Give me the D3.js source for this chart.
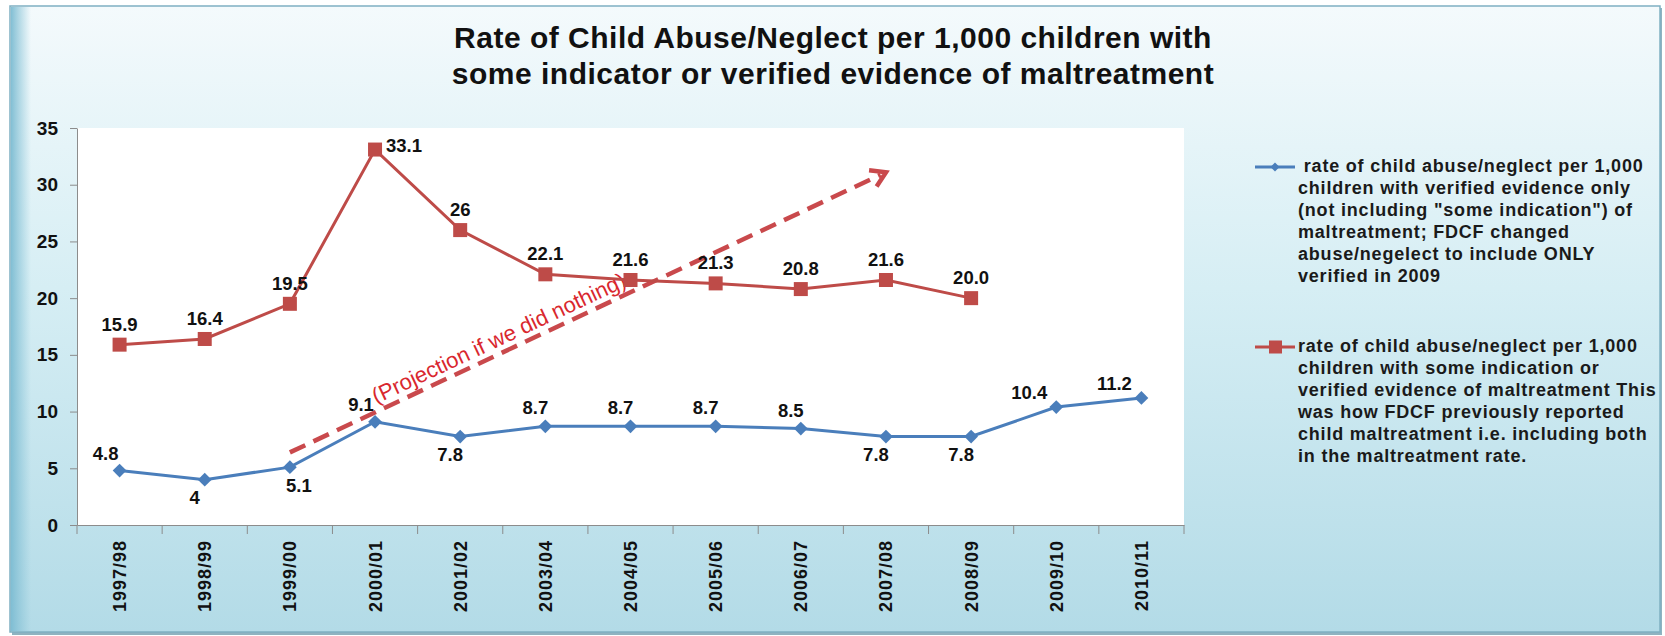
<!DOCTYPE html>
<html>
<head>
<meta charset="utf-8">
<script src="https://cdn.jsdelivr.net/npm/d3@7"></script>
<style>
    html, body { margin: 0; padding: 0; background: #fff; }
    svg { display: block; font-family: Arial, "Liberation Sans", sans-serif; }
</style>
</head>
<body>
<div id="chart"></div>
<script>
const categories = ["1997/98", "1998/99", "1999/00", "2000/01", "2001/02", "2003/04", "2004/05",
    "2005/06", "2006/07", "2007/08", "2008/09", "2009/10", "2010/11"];

const verifiedOnly = [4.8, 4, 5.1, 9.1, 7.8, 8.7, 8.7, 8.7, 8.5, 7.8, 7.8, 10.4, 11.2];
const verifiedLabels = ["4.8", "4", "5.1", "9.1", "7.8", "8.7", "8.7", "8.7", "8.5", "7.8", "7.8", "10.4", "11.2"];
const verifiedLabelSide = ["aboveLeft", "below", "belowRight", "aboveLeft", "below", "above", "above",
    "above", "above", "below", "below", "farLeft", "farLeft"];

const someIndication = [15.9, 16.4, 19.5, 33.1, 26, 22.1, 21.6, 21.3, 20.8, 21.6, 20.0, null, null];
const indicationLabels = ["15.9", "16.4", "19.5", "33.1", "26", "22.1", "21.6", "21.3", "20.8", "21.6", "20.0"];
const indicationLabelSide = ["top", "top", "top", "right", "top", "top", "top", "top", "top", "top", "top"];

const yTicks = [0, 5, 10, 15, 20, 25, 30, 35];

const projection = [
    { category: "1999/00", value: 6.4 },
    { category: "2007/08", value: 31.1 }
];
const projectionText = "(Projection if we did nothing)";

const titleLines = [
    "Rate of Child Abuse/Neglect per 1,000 children with",
    "some indicator or verified evidence of maltreatment"
];

const legendVerified = [
    " rate of child abuse/neglect per 1,000",
    "children with verified evidence only",
    "(not including \"some indication\") of",
    "maltreatment; FDCF changed",
    "abuse/negelect to include ONLY",
    "verified in 2009"
];
const legendIndication = [
    "rate of child abuse/neglect per 1,000",
    "children with some indication or",
    "verified evidence of maltreatment This",
    "was how FDCF previously reported",
    "child maltreatment i.e. including both",
    "in the maltreatment rate."
];

const width = 1665, height = 636;
const plot = { l: 77, r: 1184, t: 128, b: 525 };
const blue = "#4a7ebb", red = "#be4b48";

const svg = d3.select("#chart").append("svg")
    .attr("width", width)
    .attr("height", height)
    .attr("viewBox", `0 0 ${width} ${height}`);

const defs = svg.append("defs");

const bg = defs.append("linearGradient").attr("id", "bg").attr("x1", 0).attr("y1", 0).attr("x2", 0).attr("y2", 1);
bg.append("stop").attr("offset", "0%").attr("stop-color", "#f4fafc");
bg.append("stop").attr("offset", "45%").attr("stop-color", "#d6eef4");
bg.append("stop").attr("offset", "100%").attr("stop-color", "#b3dbe7");

const edge = defs.append("linearGradient").attr("id", "edge").attr("x1", 0).attr("y1", 0).attr("x2", 1).attr("y2", 0);
edge.append("stop").attr("offset", "0%").attr("stop-color", "#7dbcd2").attr("stop-opacity", 0.95);
edge.append("stop").attr("offset", "100%").attr("stop-color", "#86c2d6").attr("stop-opacity", 0);

// frame
svg.append("rect")
    .attr("x", 12).attr("y", 8)
    .attr("width", 1650).attr("height", 627)
    .attr("fill", "#8fb3c0");

svg.append("rect")
    .attr("x", 10).attr("y", 6)
    .attr("width", 1650).attr("height", 626)
    .attr("fill", "url(#bg)")
    .attr("stroke", "#7fb0c2")
    .attr("stroke-width", 1.5);

svg.append("rect")
    .attr("x", 11).attr("y", 7)
    .attr("width", 20).attr("height", 624)
    .attr("fill", "url(#edge)");

// title
svg.append("g")
    .selectAll("text")
    .data(titleLines)
    .join("text")
    .attr("x", 833)
    .attr("y", (d, i) => 48 + i * 36)
    .attr("text-anchor", "middle")
    .style("font-size", "30px")
    .style("font-weight", "bold")
    .style("letter-spacing", "0.5px")
    .style("fill", "#111")
    .text(d => d);

// plot area
svg.append("rect")
    .attr("x", plot.l).attr("y", plot.t)
    .attr("width", plot.r - plot.l).attr("height", plot.b - plot.t)
    .attr("fill", "#fff");

const x = d3.scaleBand()
    .domain(categories)
    .range([plot.l, plot.r])
    .paddingInner(0)
    .paddingOuter(0);

const y = d3.scaleLinear()
    .domain([0, 35])
    .range([plot.b, plot.t]);

const cx = c => x(c) + x.bandwidth() / 2;

// y axis
const yAxis = svg.append("g")
    .attr("transform", `translate(${plot.l}, 0)`)
    .call(d3.axisLeft(y).tickValues(yTicks).tickSize(7).tickPadding(12).tickSizeOuter(0));

yAxis.select(".domain").attr("stroke", "#8c8c8c");
yAxis.selectAll(".tick line").attr("stroke", "#8c8c8c");
yAxis.selectAll(".tick text")
    .style("font-size", "19px")
    .style("font-weight", "bold")
    .style("font-family", "Arial, 'Liberation Sans', sans-serif")
    .attr("fill", "#111");

// x axis
const xAxis = svg.append("g")
    .attr("transform", `translate(0, ${plot.b})`)
    .call(d3.axisBottom(x).tickSize(0).tickSizeOuter(0));

xAxis.select(".domain").attr("stroke", "#8c8c8c");
xAxis.selectAll(".tick text")
    .attr("transform", "rotate(-90)")
    .attr("x", -15)
    .attr("y", 0)
    .attr("dy", "0.36em")
    .style("text-anchor", "end")
    .style("font-size", "18px")
    .style("font-weight", "bold")
    .style("letter-spacing", "1px")
    .style("font-family", "Arial, 'Liberation Sans', sans-serif")
    .attr("fill", "#111");

xAxis.selectAll(".boundary")
    .data(categories.map(c => x(c)).concat(plot.r))
    .join("line")
    .attr("class", "boundary")
    .attr("x1", d => d).attr("x2", d => d)
    .attr("y1", 0).attr("y2", 9)
    .attr("stroke", "#8c8c8c");

// projection arrow
const p0 = [cx(projection[0].category), y(projection[0].value)];
const p1 = [cx(projection[1].category), y(projection[1].value)];
const angle = Math.atan2(p1[1] - p0[1], p1[0] - p0[0]);

const proj = svg.append("g");

proj.append("line")
    .attr("x1", p0[0]).attr("y1", p0[1])
    .attr("x2", p1[0] - 6 * Math.cos(angle)).attr("y2", p1[1] - 6 * Math.sin(angle))
    .attr("stroke", "#c9494c")
    .attr("stroke-width", 4.5)
    .attr("stroke-dasharray", "17,9");

const head = 17, spread = 0.55;
proj.append("path")
    .attr("d", d3.line()([
        [p1[0] - head * Math.cos(angle - spread), p1[1] - head * Math.sin(angle - spread)],
        p1,
        [p1[0] - head * Math.cos(angle + spread), p1[1] - head * Math.sin(angle + spread)]
    ]))
    .attr("fill", "none")
    .attr("stroke", "#c9494c")
    .attr("stroke-width", 4.5)
    .attr("stroke-linejoin", "miter");

const tAt = 0.15;
const tp = [p0[0] + (p1[0] - p0[0]) * tAt, p0[1] + (p1[1] - p0[1]) * tAt];
proj.append("text")
    .attr("transform", `translate(${tp[0]}, ${tp[1]}) rotate(${angle * 180 / Math.PI})`)
    .attr("y", -7)
    .style("font-size", "22px")
    .style("fill", "#d9272e")
    .text(projectionText);

// series
const seriesLine = d3.line()
    .defined(d => d.value != null)
    .x(d => cx(d.category))
    .y(d => y(d.value));

const verifiedData = categories.map((category, i) => ({ category, value: verifiedOnly[i], label: verifiedLabels[i], side: verifiedLabelSide[i] }));
const indicationData = categories.map((category, i) => ({ category, value: someIndication[i], label: indicationLabels[i], side: indicationLabelSide[i] }))
    .filter(d => d.value != null);

svg.append("path")
    .datum(indicationData)
    .attr("d", seriesLine)
    .attr("fill", "none")
    .attr("stroke", red)
    .attr("stroke-width", 3);

svg.append("path")
    .datum(verifiedData)
    .attr("d", seriesLine)
    .attr("fill", "none")
    .attr("stroke", blue)
    .attr("stroke-width", 3);

svg.append("g")
    .selectAll("rect")
    .data(indicationData)
    .join("rect")
    .attr("x", d => cx(d.category) - 7)
    .attr("y", d => y(d.value) - 7)
    .attr("width", 14).attr("height", 14)
    .attr("fill", red);

svg.append("g")
    .selectAll("path")
    .data(verifiedData)
    .join("path")
    .attr("transform", d => `translate(${cx(d.category)}, ${y(d.value)}) rotate(45)`)
    .attr("d", d3.symbol().type(d3.symbolSquare).size(95))
    .attr("fill", blue);

// data labels
const labelOffset = {
    top: { dx: 0, dy: -14, anchor: "middle" },
    right: { dx: 11, dy: 2, anchor: "start" },
    above: { dx: -10, dy: -12, anchor: "middle" },
    aboveLeft: { dx: -14, dy: -11, anchor: "middle" },
    farLeft: { dx: -27, dy: -8, anchor: "middle" },
    below: { dx: -10, dy: 24, anchor: "middle" },
    belowRight: { dx: 9, dy: 25, anchor: "middle" }
};

function drawLabels(data) {
    svg.append("g")
        .selectAll("text")
        .data(data)
        .join("text")
        .attr("x", d => cx(d.category) + labelOffset[d.side].dx)
        .attr("y", d => y(d.value) + labelOffset[d.side].dy)
        .attr("text-anchor", d => labelOffset[d.side].anchor)
        .style("font-size", "18.5px")
        .style("font-weight", "bold")
        .style("fill", "#111")
        .text(d => d.label);
}

drawLabels(indicationData);
drawLabels(verifiedData);

// legend
const legend = svg.append("g");

function legendEntry(top, color, marker, lines) {
    const g = legend.append("g").attr("transform", `translate(0, ${top})`);

    g.append("line")
        .attr("x1", 1255).attr("x2", 1295)
        .attr("y1", 0).attr("y2", 0)
        .attr("stroke", color)
        .attr("stroke-width", 3);

    if (marker === "square") {
        g.append("rect")
            .attr("x", 1269).attr("y", -6.5)
            .attr("width", 13).attr("height", 13)
            .attr("fill", color);
    } else {
        g.append("path")
            .attr("transform", "translate(1275, 0) rotate(45)")
            .attr("d", d3.symbol().type(d3.symbolSquare).size(40))
            .attr("fill", color);
    }

    g.selectAll("text")
        .data(lines)
        .join("text")
        .attr("x", 1298)
        .attr("y", (d, i) => 5 + i * 22)
        .style("font-size", "18px")
        .style("font-weight", "bold")
        .style("letter-spacing", "0.8px")
        .style("white-space", "pre")
        .style("fill", "#1a1a1a")
        .text(d => d);
}

legendEntry(167, blue, "diamond", legendVerified);
legendEntry(347, red, "square", legendIndication);
</script>
</body>
</html>
